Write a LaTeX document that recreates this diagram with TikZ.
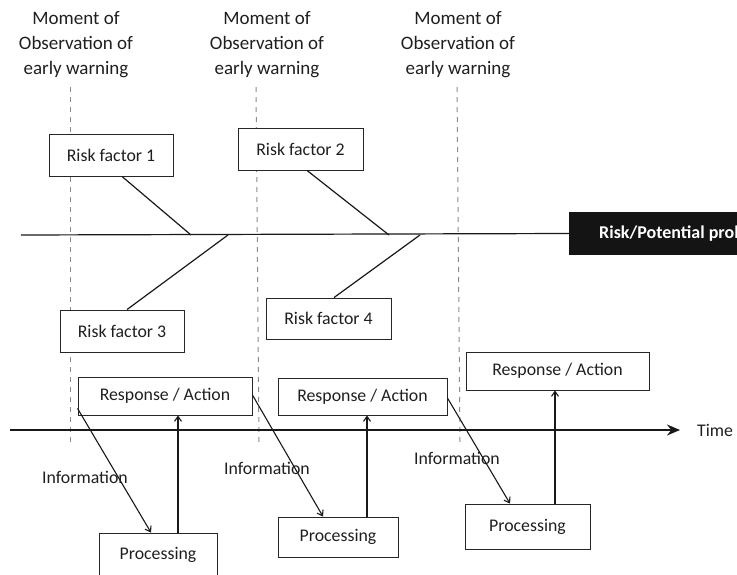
\documentclass[tikz,border=0pt]{standalone}
\usepackage{fontspec}
\setmainfont{Carlito}
\usetikzlibrary{arrows.meta,calc}
\begin{document}
\begin{tikzpicture}[x=1pt,y=-1pt,
  txt/.style={font=\fontsize{17.8}{25}\selectfont, text=black!88},
  box/.style={txt, draw=black!85, line width=0.9pt, minimum width=#1, inner sep=0pt},
  head/.style={font=\fontsize{19}{25}\selectfont, text=black!88, align=center, inner sep=0pt},
  bone/.style={draw=black!90, line width=1.2pt},
  obs/.style={draw=black!45, line width=1pt, dash pattern=on 5pt off 5pt},
  flow/.style={draw=black!90, line width=1.1pt, -{Straight Barb[length=5pt,width=7pt]}},
  timeline/.style={draw=black!90, line width=1.4pt, -{Stealth[length=13pt,width=11pt]}},
  problem/.style={fill=black!92, text=white, font=\fontsize{18}{20}\selectfont\bfseries,
    minimum height=43pt, inner xsep=30pt, anchor=west}
]
\useasboundingbox (0,0) rectangle (737,574);

% observation moments
\node[head] (h1) at (76,45) {Moment of\\Observation of\\early warning};
\node[head] (h2) at (267,45) {Moment of\\Observation of\\early warning};
\node[head] (h3) at (458,45) {Moment of\\Observation of\\early warning};
\coordinate (d1t) at (70,87);  \coordinate (d1b) at (70,442);
\coordinate (d2t) at (256,87); \coordinate (d2b) at (259,442);
\coordinate (d3t) at (457,87); \coordinate (d3b) at (460,442);
\draw[obs] (d1t) -- (d1b);
\draw[obs] (d2t) -- (d2b);
\draw[obs] (d3t) -- (d3b);

% fishbone spine and head
\node[problem] (prob) at (569,233.5) {Risk/Potential problem};
\coordinate (s0) at (21,235);
\draw[bone] (s0) -- (prob.west);

% risk factors
\node[box=124pt, minimum height=42pt, fill=white] (rf1) at (111,155) {Risk factor 1};
\node[box=125pt, minimum height=42pt, fill=white] (rf2) at (300.5,149) {Risk factor 2};
\node[box=124pt, minimum height=42pt, fill=white] (rf3) at (122,331) {Risk factor 3};
\node[box=125pt, minimum height=41pt, fill=white] (rf4) at (328.5,318.5) {Risk factor 4};
\coordinate (j1) at (191,235);
\coordinate (j2) at (389,235);
\coordinate (j3) at (228,235);
\coordinate (j4) at (420,235);
\draw[bone] ($(rf1.south)+(11,0)$) -- (j1);
\draw[bone] ($(rf2.south)+(6.5,0)$) -- (j2);
\draw[bone] ($(rf3.north)+(5,0)$) -- (j3);
\draw[bone] ($(rf4.north)+(5.5,0)$) -- (j4);

% time axis
\node[txt, anchor=west, inner sep=0pt] (time) at (697,430) {Time};
\coordinate (t0) at (10,430);
\draw[timeline] (t0) -- ($(time.west)+(-17,0)$);

% response / processing cycle
\node[box=174pt, minimum height=38pt] (ra1) at (165,396) {Response / Action};
\node[box=169pt, minimum height=37pt] (ra2) at (362.5,396.5) {Response / Action};
\node[box=183pt, minimum height=38pt] (ra3) at (557.5,371) {Response / Action};
\node[box=118pt, minimum height=44pt] (pr1) at (158,555) {Processing};
\node[box=120pt, minimum height=40pt] (pr2) at (338,537) {Processing};
\node[box=125pt, minimum height=45pt] (pr3) at (527.5,526.5) {Processing};

% information flows down to processing
\draw[flow] ($(ra1.south west)+(0,-7)$) -- ($(pr1.north)+(-7,0)$);
\draw[flow] ($(ra1.east)+(0,-1)$) -- ($(pr2.north)+(-15,0)$);
\draw[flow] ($(ra2.east)+(0,1.5)$) -- ($(pr3.north)+(-17.5,0)$);

% processing feeds the next response
\coordinate (u1) at ($(pr1.north)+(20,0)$);
\coordinate (u2) at ($(pr2.north)+(29,0)$);
\coordinate (u3) at ($(pr3.north)+(27.5,0)$);
\draw[flow] (u1) -- (u1 |- ra1.south);
\draw[flow] (u2) -- (u2 |- ra2.south);
\draw[flow] (u3) -- (u3 |- ra3.south);

\node[txt, inner sep=0pt] (i1) at (85,477) {Information};
\node[txt, inner sep=0pt] (i2) at (267,468) {Information};
\node[txt, inner sep=0pt] (i3) at (457,458) {Information};
\end{tikzpicture}
\end{document}
